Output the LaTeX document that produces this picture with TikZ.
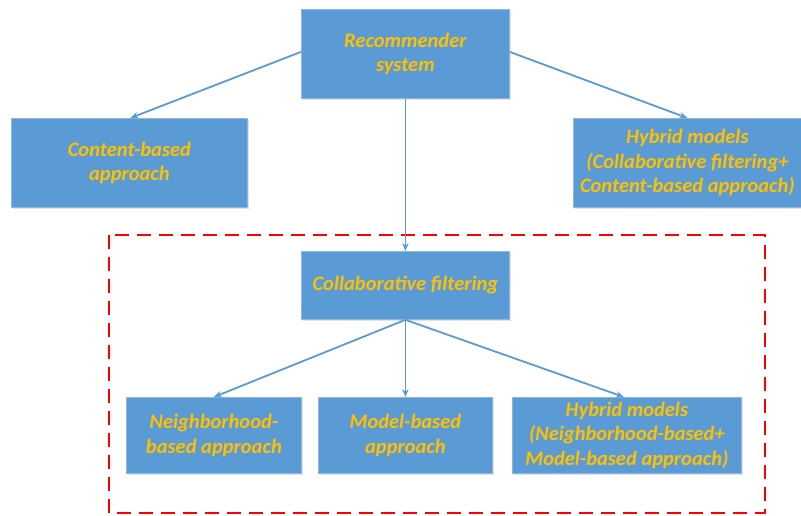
\documentclass[tikz,border=0pt]{standalone}
\usepackage{fontspec}
\setmainfont{Carlito}[BoldFont=* Bold, ItalicFont=* Italic, BoldItalicFont=* Bold Italic]
\usetikzlibrary{arrows.meta,shadows}
\definecolor{boxblue}{HTML}{5B9BD5}
\definecolor{boxedge}{HTML}{8DB8E2}
\definecolor{gold}{HTML}{FFC000}
\definecolor{dashred}{HTML}{FF0000}
\tikzset{
  box/.style={fill=boxblue, draw=boxedge, line width=0.8pt, text=gold,
    font=\fontsize{20.5}{24.5}\selectfont\bfseries\itshape, align=center,
    inner sep=0pt, anchor=north west,
    drop shadow={shadow xshift=1.5pt, shadow yshift=-1.5pt, fill=black!18, opacity=0.6}},
  link/.style={draw=boxblue, line width=1.8pt, -{Stealth[length=8pt,width=6.5pt]}},
  group/.style={draw=dashred, line width=1.8pt, dash pattern=on 14pt off 8pt}
}
\begin{document}
\begin{tikzpicture}[x=1pt,y=-1pt]
  \useasboundingbox (0,0) rectangle (801,515);

  % dashed frame around the collaborative filtering family
  \draw[group] (109,235) rectangle (765,513);

  % top level
  \node[box, minimum width=208pt, minimum height=89pt] (rec) at (301,9)
    {Recommender\\system};
  \node[box, minimum width=236pt, minimum height=89pt] (cb) at (11,118)
    {Content-based\\approach};
  \node[box, minimum width=228pt, minimum height=89pt] (hyb) at (573,118)
    {Hybrid models\\(Collaborative filtering+\\Content-based approach)};

  % collaborative filtering branch
  \node[box, minimum width=208pt, minimum height=68pt] (cf) at (301,251)
    {Collaborative filtering};
  \node[box, minimum width=175pt, minimum height=76pt] (nb) at (126,397)
    {Neighborhood-\\based approach};
  \node[box, minimum width=174pt, minimum height=76pt] (mb) at (318,397)
    {Model-based\\approach};
  \node[box, minimum width=229pt, minimum height=76pt] (hyb2) at (512,397)
    {Hybrid models\\(Neighborhood-based+\\Model-based approach)};

  % connectors
  \coordinate (recL) at ([yshift=2pt]rec.west);
  \coordinate (recR) at ([yshift=2pt]rec.east);
  \draw[link] (recL) -- ([xshift=1pt]cb.north);
  \draw[link] (recR) -- (hyb.north);
  \draw[link] (rec.south) -- (cf.north);
  \draw[link] (cf.south) -- (nb.north);
  \draw[link] (cf.south) -- (mb.north);
  \draw[link] (cf.south) -- ([xshift=-3pt]hyb2.north);
\end{tikzpicture}
\end{document}
